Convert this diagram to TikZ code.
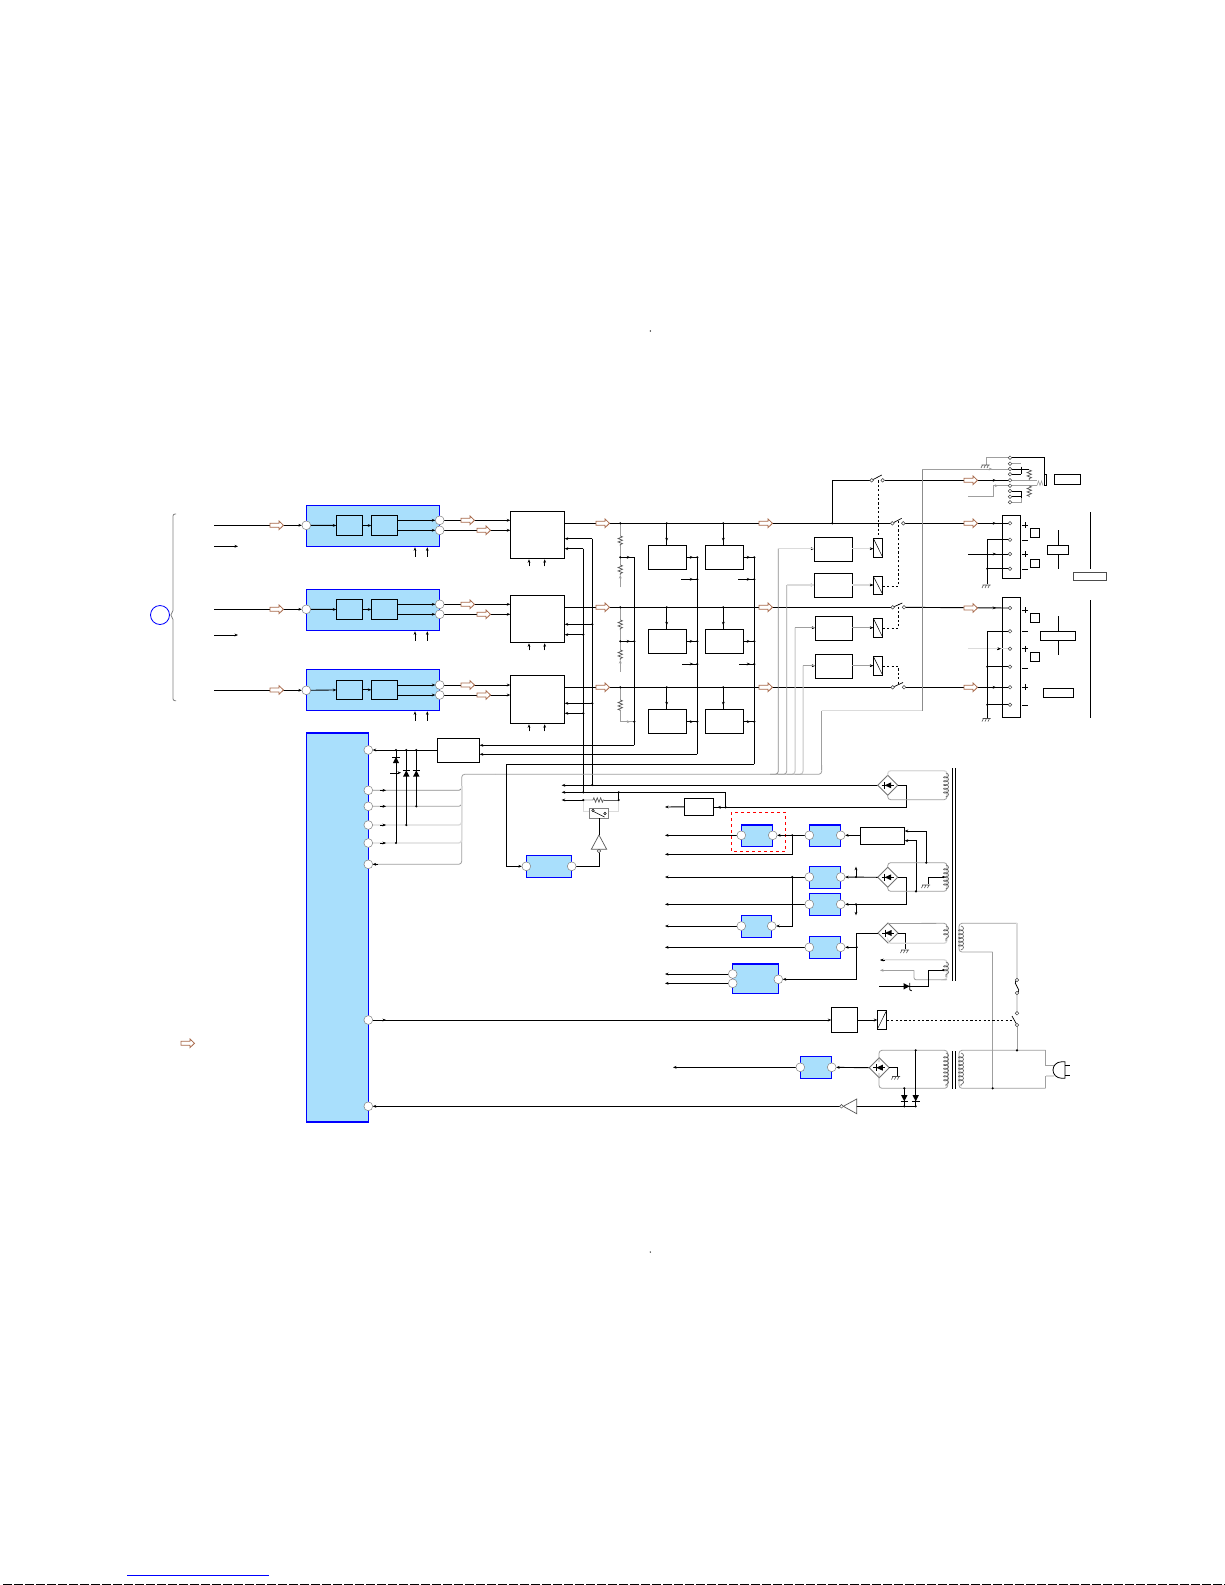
\documentclass[tikz,border=0pt]{standalone}
\usetikzlibrary{arrows.meta,shapes.geometric,decorations.markings,decorations.pathmorphing}
\pgfdeclarelayer{front}\pgfsetlayers{main,front}
\definecolor{icblue}{HTML}{A9DFFC}
\definecolor{harrow}{HTML}{A8694A}
\newcommand\bx[6]{\pgfmathsetmacro\cxx{(#3+#5)/2}\pgfmathsetmacro\cyy{(#4+#6)/2}\pgfmathsetmacro\ww{#5-#3}\pgfmathsetmacro\hh{#6-#4}\node[#1,minimum width=\ww pt,minimum height=\hh pt] (#2) at (\cxx,\cyy) {};}
\newcommand\gnd[2]{\begin{scope}[shift={(#1,#2)}]\draw[gray!60!black,line width=.6pt] (-4,0)--(4,0) (-3,0)--(-4.5,3) (0,0)--(-1.5,3) (3,0)--(1.5,3);\end{scope}}
\newcommand\rectif[3]{\node[rectnode] (#1) at (#2,#3) {};\begin{scope}[shift={(#2,#3)}]\fill (3.5,-3)--(3.5,3)--(-3,0)--cycle;\draw[wire] (-6,0)--(6,0) (-3,-3.5)--(-3,3.5);\end{scope}}
\newcommand\coilv[3]{\draw[gray!70!black,line width=.6pt,decorate,decoration={coil,aspect=.6,segment length=3.8pt,amplitude=2.5pt}] (#1,#2)--(#1,#3);}
\newcommand\dioup[2]{\begin{scope}[shift={(#1,#2)}]\fill (-3.2,3.2)--(3.2,3.2)--(0,-3)--cycle;\draw[wire] (-3.8,-3)--(3.8,-3);\end{scope}}
\newcommand\diodn[2]{\begin{scope}[shift={(#1,#2)}]\fill (-3.2,-3.2)--(3.2,-3.2)--(0,3)--cycle;\draw[wire] (-3.8,3)--(3.8,3);\end{scope}}
\newcommand\res[3]{\draw[gray!70!black,line width=.7pt,decorate,decoration={zigzag,segment length=3.4pt,amplitude=2.2pt}] (#1,#2)--(#1,#3);}
\tikzset{
 wire/.style={black,line width=.9pt},
 gw/.style={gray!75,line width=.8pt},
 dkw/.style={gray!110!black,line width=.8pt},
 lw/.style={gray!28,line width=1.3pt},
 tipat/.style={postaction={decorate,decoration={markings,mark=at position #1 with {\arrow{Stealth[length=3.5pt,width=2.8pt]}}}}},
 tip/.style={-{Stealth[length=3.5pt,width=2.8pt]}},
 ibox/.style={draw=black,line width=.9pt,fill=white,inner sep=0pt,outer sep=0pt},
 iboxb/.style={draw=black,line width=.9pt,fill=icblue,inner sep=0pt,outer sep=0pt},
 bluebox/.style={draw=blue,line width=1.15pt,fill=icblue,inner sep=0pt,outer sep=0pt},
 pinnode/.style={circle,draw=gray,line width=.5pt,fill=white,minimum size=8.8pt,inner sep=0pt,outer sep=0pt},
 ptnode/.style={circle,draw=black!75,line width=.5pt,fill=white,minimum size=3.6pt,inner sep=0pt,outer sep=0pt},
 dotnode/.style={circle,fill=black,minimum size=2.4pt,inner sep=0pt,outer sep=0pt},
 rectnode/.style={diamond,draw=gray!90!black,line width=.9pt,fill=white,minimum size=20pt,inner sep=0pt,outer sep=0pt},
 dashw/.style={black,line width=.9pt,dash pattern=on 2.2pt off 2.2pt},
 harr/.style={draw=harrow,line width=.8pt,fill=white},
}
\begin{document}
\begin{tikzpicture}[x=1pt,y=-1pt]
\useasboundingbox (0,0) rectangle (1225,1585);
\fill[white] (0,0) rectangle (1225,1585);
% page marks
\node[dotnode,minimum size=1.4pt] (marka) at (650.3,331) {};
\node[dotnode,minimum size=1.4pt] (markb) at (650.3,1252) {};
\draw[blue,line width=.9pt] (127,1575.3)--(268.7,1575.3);
\draw[black,line width=1pt,dash pattern=on 9pt off 2pt] (3,1584.4)--(1225,1584.4);
% brace and circle
\draw[gray,line width=.8pt,rounded corners=2] (176,514)--(173,514)--(173,612.5)--(170,615)--(173,617.5)--(173,700.7)--(176,700.7);
\node[circle,draw=blue,line width=.8pt,minimum size=19pt,inner sep=0pt] (src) at (160,615) {};
% three input rows
\foreach \r/\t/\b/\yi/\yo/\yp/\ya/\yc/\ybb/\icb/\icc/\ym/\fa/\fb/\sy in {
 a/505.3/546.3/525.3/520.3/530.3/515.3/535.7/558.3/511.3/558.3/523.3/538.7/548.7/546.3,
 b/589.3/630.3/609.3/604.3/614.3/599.3/619.7/642.3/595.3/642.3/607.3/624.3/634.7/635,
 c/669.3/710.3/690.3/685/695/680.3/699.3/723.3/675.3/723.3/687.3/703.3/713.3/0}{
 \bx{bluebox}{blue\r}{306.3}{\t}{439.7}{\b}
 \bx{iboxb}{fa\r}{336.3}{\ya}{362.3}{\yc}
 \bx{iboxb}{fb\r}{371.3}{\ya}{397.3}{\yc}
 \bx{ibox}{ic\r}{510.3}{\icb}{564.7}{\icc}
 \begin{pgfonlayer}{front}
 \node[pinnode] (in\r) at (306.3,\yi) {};
 \node[pinnode] (oa\r) at (439.7,\yo) {};
 \node[pinnode] (ob\r) at (439.7,\yp) {};
 \end{pgfonlayer}
 \coordinate (st\r) at (214,\yi);
 \coordinate (ina\r) at (510.3,\yo);
 \coordinate (inb\r) at (510.3,\yp);
 \coordinate (ma\r) at (564.7,\ym);
 \draw[wire,tip] (st\r)--(in\r);
 \draw[wire,tip] (in\r)--(fa\r);
 \draw[wire,tip] (fa\r)--(fb\r);
 \draw[wire,tip] (fb\r.east|-oa\r)--(oa\r);
 \draw[wire,tip] (fb\r.east|-ob\r)--(ob\r);
 \draw[wire,tip] (oa\r)--(ina\r);
 \draw[wire,tip] (ob\r)--(inb\r);
 \draw[wire,tip] (415,\b+10.4)--(415,\b+1);
 \draw[wire,tip] (427.3,\b+10.4)--(427.3,\b+1);
 \draw[wire,tip] (529,\icc+8)--(529,\icc+1);
 \draw[wire,tip] (544.7,\icc+8)--(544.7,\icc+1);
 \draw[wire,tip] (592.3,\fa)--(ic\r.east|-0,\fa);
 \draw[wire,tip] (583.3,\fb)--(ic\r.east|-0,\fb);
}
\draw[wire,tip] (214,546.3)--(238,546.3);
\draw[wire,tip] (214,635)--(238,635);
\draw[wire] (592.3,538.7)--(592.3,785);
\draw[wire] (583.3,548.7)--(583.3,792.3);
% amplifier boxes
\foreach \n/\t/\b in {a/545.3/569.3,b/629.3/653.3,c/709.3/733.3}{
 \bx{ibox}{amp1\n}{648.3}{\t}{686.7}{\b}
 \bx{ibox}{amp2\n}{705.3}{\t}{743.3}{\b}
}
\foreach \n/\y in {a/523.3,b/607.3,c/687.3}{
 \draw[wire,tipat=-4pt] (666.7,\y)--(amp1\n.north-|666.7,0);
 \draw[wire,tipat=-4pt] (723.3,\y)--(amp2\n.north-|723.3,0);
}
\foreach \n/\y in {a/557.3,b/641.3,c/721.7}{
 \draw[wire,tipat=-4pt] (amp1\n.east|-0,\y)--(697.3,\y);
 \draw[wire,tipat=-4pt] (amp2\n.east|-0,\y)--(754.3,\y);
}
\draw[wire,tipat=-4pt] (681,579.3)--(697.3,579.3);
\draw[wire,tipat=-4pt] (738,579.3)--(754.3,579.3);
\draw[wire,tipat=-4pt] (682,664)--(697.3,664);
\draw[wire,tipat=-4pt] (739,664)--(754.3,664);
\draw[wire] (697.3,557.3)--(697.3,754.3);
\draw[wire] (754.3,557.3)--(754.3,764.3);
\draw[wire] (634.3,557.3)--(634.3,745.3);
% dividers
\draw[gw] (620.3,523.3)--(620.3,536);\res{620.3}{536}{546}\draw[gw] (620.3,546)--(620.3,557.3);
\draw[gw] (620.3,557.3)--(620.3,565);\res{620.3}{565}{575}\draw[gw,tip] (620.3,587.3)--(620.3,575);
\draw[wire,tipat=-4pt] (620.3,557.3)--(634.3,557.3);
\draw[gw] (620.3,607.3)--(620.3,620);\res{620.3}{620}{630}\draw[gw] (620.3,630)--(620.3,641.3);
\draw[gw] (620.3,641.3)--(620.3,650);\res{620.3}{650}{660}\draw[gw,tip] (620.3,671.7)--(620.3,660);
\draw[wire,tipat=-4pt] (620.3,641.3)--(634.3,641.3);
\draw[gw] (620.3,687.3)--(620.3,700);\res{620.3}{700}{711}\draw[gw] (620.3,711)--(620.3,721.7);
\draw[gw,tipat=-4pt] (620.3,721.7)--(634.3,721.7);
% right switches
\begin{pgfonlayer}{front}
\foreach \n/\xa/\xb/\y in {z/871.7/882.7/480.3,a/892.3/903.3/523.3,b/892.7/904/607.3,c/892.7/904/687.3}{
 \node[ptnode] (sw\n L) at (\xa,\y) {};
 \node[ptnode] (sw\n R) at (\xb,\y) {};
}
\foreach \n/\y in {1/457.7,2/463.7,3/469,4/474.3,5/480.3,6/485.7,7/491,8/496.7,9/502.3}{\node[ptnode] (j\n) at (1010,\y) {};}
\foreach \n/\y in {a/523.3,b/539.7,c/554,d/568.7}{\node[ptnode] (ka\n) at (1010,\y) {};}
\foreach \n/\y in {a/608,b/631.3,c/648.7,d/666.7,e/687.3,f/704.7}{\node[ptnode] (kb\n) at (1010,\y) {};}
\end{pgfonlayer}
\draw[black,line width=.7pt] (swzL)--(881.7,475) (swaL)--(901.7,518.3) (swbL)--(902.3,603) (swcL)--(903,682.5);
\bx{ibox}{conna}{1002.3}{515.3}{1020.3}{578.3}
\bx{ibox}{connb}{1002.3}{597}{1020.3}{717.3}
\draw[wire] (maa)--(swaL);
\draw[wire] (mab)--(swbL);
\draw[wire] (mac)--(swcL);
\draw[wire,tipat=-12pt] (swaR)--(kaa);
\draw[wire,tipat=-12pt] (swbR)--(kba);
\draw[wire,tipat=-12pt] (swcR)--(kbe);
\draw[wire] (832.3,523.3)--(832.3,480.3)--(swzL);
\draw[wire,tipat=-12pt] (swzR)--(j5);
% driver boxes and relays
\bx{ibox}{dra}{814.3}{537.3}{852.3}{561.3}
\bx{ibox}{drb}{814.3}{573.3}{852.3}{597.3}
\bx{ibox}{drc}{815.3}{616.3}{852.3}{640.3}
\bx{ibox}{drd}{815.3}{654.3}{852.3}{678.3}
\bx{ibox}{rla}{873.3}{538.3}{882.7}{557.3}
\bx{ibox}{rlb}{873.3}{576.3}{882.7}{594.3}
\bx{ibox}{rlc}{873.3}{618.3}{882.7}{637.3}
\bx{ibox}{rld}{873.3}{656.3}{882.7}{675.3}
\foreach \n in {a,b,c,d}{\draw[black,line width=.5pt] (rl\n.north west)--(rl\n.south east);}
\draw[lw] (dra.east|-0,548.7)--(rla.west|-0,548.7);
\draw[lw] (drb.east|-0,585)--(rlb.west|-0,585);
\draw[gw] (drc.east|-0,627.7)--(rlc.west|-0,627.7);
\draw[gw] (drd.east|-0,665.7)--(rld.west|-0,665.7);
\foreach \y/\x in {548.7/873.3,585/873.3,627.7/873.3,665.7/873.3}{\draw[black,tip,line width=.4pt] (\x-3.6,\y)--(\x,\y);}
\foreach \y/\x in {548.7/814.3,585/814.3,627.7/815.3,665.7/815.3}{\draw[black,tip,line width=.4pt] (\x-3.6,\y)--(\x,\y);}
\draw[dashw] (878.3,480.3)--(878.3,538.3);
\draw[dashw] (882.7,586.3)--(898.3,586.3)--(898.3,520);
\draw[dashw] (882.7,628.3)--(898.3,628.3)--(898.3,604);
\draw[dashw] (882.7,666.3)--(898.3,666.3)--(898.3,684);
% gray buses
\draw[dkw,rounded corners=3] (778.3,548.7)--(778.3,774.3)--(770,774.3);
\draw[gw,rounded corners=3] (786.7,585)--(786.7,774.3)--(778,774.3);
\draw[gray!45,line width=1pt,rounded corners=3] (795,627.7)--(795,774.3)--(787,774.3);
\draw[gray!45,line width=1pt,rounded corners=3] (803,665.7)--(803,774.3)--(795,774.3);
\draw[lw] (778.3,548.7)--(814.3,548.7);
\draw[lw] (786.7,585)--(814.3,585);
\draw[gw] (795,627.7)--(815.3,627.7);
\draw[gw] (803,665.7)--(815.3,665.7);
\draw[lw] (821.7,710.7)--(922.3,710.7);
\draw[gw] (821.7,710.7)--(821.7,770);
\draw[gw,rounded corners=3] (821.7,765)--(821.7,774.3)--(495,774.3);
\draw[gw,rounded corners=3] (495,774.3)--(461.7,774.3)--(461.7,864.3)--(372.7,864.3);
\draw[dkw] (922.3,710.7)--(922.3,469);
\draw[gw,tipat=-16pt] (922.3,469)--(j3);
% big IC and pins
\bx{bluebox}{bigic}{306.7}{732.7}{368.3}{1122}
\draw[blue,line width=1.6pt] (306.7,732.7)--(368.3,732.7);
\begin{pgfonlayer}{front}
\foreach \n/\y in {1/750,2/790.3,3/806.3,4/825,5/843,6/864.3,7/1020,8/1106.3}{\node[pinnode] (bp\n) at (368.3,\y) {};}
\end{pgfonlayer}
\bx{ibox}{reg}{437.3}{738.3}{479.7}{762.3}
\draw[wire,tip] (reg.west|-bp1)--(bp1);
\draw[wire,tip] (634.3,745.3)--(reg.east|-0,745.3);
\draw[wire,tip] (697.3,754.3)--(reg.east|-0,754.3);
\foreach \n/\sty in {2/dkw,3/gw,4/lw,5/lw}{\draw[\sty,rounded corners=3] (bp\n)--(bp\n-|461.7,0)--(461.7,786);}
\foreach \y in {790.3,806.3,825,843}{\draw[black,tip,line width=.4pt] (380,\y)--(386,\y);}
\draw[black,tip,line width=.4pt] (378,864.3)--(372.7,864.3);
% diodes
\draw[wire] (396,750)--(396,843);
\draw[wire] (406.3,750)--(406.3,825);
\draw[wire] (416.3,750)--(416.3,806.3);
\dioup{396}{760}\dioup{406.3}{773.3}\dioup{416.3}{773.3}
\draw[black,tip,line width=.4pt] (390,772.7)--(401,772.7);
% control lines
\draw[wire] (592.3,785)--(565,785);
\draw[wire,tip] (877.7,785.3)--(561.7,785.3);
\draw[wire,tip] (725.7,792.3)--(561.7,792.3);
\draw[wire] (725.7,792.3)--(725.7,807.3);
\draw[wire,tip] (583.3,800)--(561.7,800);
\draw[gray!70!black,line width=.7pt] (604,800)--(618.7,800);
% the filler between relay and resistor
\draw[lw] (583.3,800)--(593,800);
\draw[gray!70!black,line width=.7pt,decorate,decoration={zigzag,segment length=3.4pt,amplitude=2.2pt}] (593,800)--(604,800);
\draw[lw] (583.3,800)--(583.3,811.7)--(590,811.7);
\draw[lw] (608.3,811.7)--(618.7,811.7)--(618.7,800);
\draw[wire] (618.7,792.3)--(618.7,800);
\draw[wire] (583.3,792.3)--(618.7,792.3);
\bx{draw=gray,line width=.9pt,fill=white,inner sep=0pt,outer sep=0pt}{kbox}{589.7}{808}{608.3}{818.3}
\draw[black,line width=.5pt,fill=white] (593,810.5) circle (1.2) (605,813.5) circle (1.2);
\draw[black,line width=.6pt] (593.5,811.5)--(604.5,817);
% relay buffer
\draw[gray!70!black,line width=.7pt,fill=white] (599,835)--(606.7,849.3)--(591.3,849.3)--cycle;
\node[ptnode] (bufa) at (599,851) {};
\draw[wire] (599,818.3)--(599,835);
\bx{bluebox}{bl0}{526.3}{855.3}{571.7}{877.3}
\begin{pgfonlayer}{front}
\node[pinnode] (bl0a) at (526.3,866.3) {};
\node[pinnode] (bl0b) at (571.7,866.3) {};
\end{pgfonlayer}
\draw[wire] (bufa)--(599,866.3)--(bl0b);
\draw[wire,tip] (754.3,764.3)--(506.3,764.3)--(506.3,866.3)--(bl0a);
% power section
\bx{ibox}{pbox}{684.3}{798.3}{713.3}{815.3}
\draw[wire,tip] (pbox.west)--(665,807);
\draw[wire,tipat=-4pt] (906.7,807.3)--(pbox.east|-0,807.3);
\rectif{ra}{887.7}{785.3}\rectif{rb}{887.7}{877.3}\rectif{rc}{888}{933}\rectif{rd}{879.3}{1067.7}
\draw[wire] (ra.east)--(906.7,785.3)--(906.7,807.3);
\draw[draw=red,line width=.8pt,dashed] (731.3,812.3) rectangle (785.7,851.3);
\foreach \n/\xa/\xb/\t/\b/\y in {1/741.3/772.7/824.7/846.7/835.3,2/809.3/840.7/824.7/846.7/835.3,3/809.3/840.7/866.3/888.3/877,4/809.3/840.7/893.3/915.7/904.3,5/741.3/771.7/915.3/937.3/926,6/809.3/840.7/936.3/958.3/947.3,8/800.3/831.7/1056.3/1078.3/1067.3}{
 \bx{bluebox}{bl\n}{\xa}{\t}{\xb}{\b}
 \draw[blue,line width=1.6pt] (\xa,\t)--(\xb,\t);
 \begin{pgfonlayer}{front}
 \node[pinnode] (bl\n a) at (\xa,\y) {};
 \node[pinnode] (bl\n b) at (\xb,\y) {};
 \end{pgfonlayer}
}
\bx{bluebox}{bl7}{732.3}{963.7}{778.7}{993.3}
\draw[blue,line width=1.6pt] (732.3,963.7)--(778.7,963.7);
\begin{pgfonlayer}{front}
\node[pinnode] (bl7a) at (732.7,974) {};
\node[pinnode] (bl7c) at (732.7,983.3) {};
\node[pinnode] (bl7b) at (778.3,979.3) {};
\end{pgfonlayer}
\bx{ibox}{vreg}{860.3}{827.3}{904.7}{844.7}
\draw[wire,tip] (bl1a)--(665,835.3);
\draw[wire,tip] (bl2a)--(bl1b);
\draw[wire,tip] (vreg.west|-bl2b)--(bl2b);
\draw[wire,tip] (792.3,835.3)--(792.3,854.3)--(665,854.3);
\draw[wire,tip] (926.3,862.7)--(926.3,831)--(vreg.east|-0,831);
\draw[wire,tip] (916,891.3)--(916,840.7)--(vreg.east|-0,840.7);
\draw[wire,tip] (bl3a)--(665,877);
\draw[wire,tip] (rb.west)--(bl3b);
\draw[wire,tip] (856,877)--(856,866.7);
\draw[wire,tip] (bl4a)--(665,904.3);
\draw[wire,tip] (906.7,877.3)--(906.7,904.3)--(bl4b);
\draw[wire] (rb.east)--(906.7,877.3);
\draw[wire,tip] (856,904.3)--(856,915.3);
\draw[wire,tip] (bl5a)--(665,926);
\draw[wire,tip] (792.3,877)--(792.3,926)--(bl5b);
\draw[wire,tip] (bl6a)--(665,947.3);
\draw[wire,tip] (856.7,947.3)--(bl6b);
\draw[wire,tip] (rc.west)--(856.7,933)--(856.7,979.3)--(bl7b);
\draw[wire,tip] (bl7a)--(665,974);
\draw[wire,tip] (bl7c)--(665,983.3);
\draw[wire] (rc.east)--(905,933)--(905,949);
\gnd{905}{950}
\draw[wire] (943.3,877)--(928.3,877)--(928.3,884.3);
\gnd{926}{885}
\draw[wire,tip] (bl8a)--(673,1067.3);
\draw[wire,tip] (rd.west)--(bl8b);
\draw[wire] (rd.east)--(897.7,1067.7)--(897.7,1076);
\gnd{896}{1076.5}
% windings
\draw[gray!28,line width=1.3pt,rounded corners=3] (887.7,775.3)|-(947,770.7)--(947,780);
\draw[gw,rounded corners=3] (947,790)--(947,799.7)-|(887.7,795.3);
\coilv{946}{773}{797}
\draw[gw,rounded corners=3] (887.7,867)|-(947,862.7)--(947,891.3)-|(887.7,887);
\coilv{946}{865}{889}
\draw[gw,rounded corners=3] (888,923.5)--(947,923.3)--(947,930);
\draw[lw,rounded corners=3] (947,936)--(947,943.3)-|(888,941);
\coilv{946}{926}{941}
\draw[lw,rounded corners=3] (946,979.7)--(947,979.7)--(947,959.7)--(882,959.7);
\draw[black,tip,line width=.4pt] (885,960)--(880,960);
\draw[gw,rounded corners=2] (947,979.7)--(914,979.7)--(914,970.3);
\draw[gw,tip] (914,970.3)--(880,970.3);
\coilv{946}{962}{977}
\draw[wire] (879.3,986.3)--(928.3,986.3)--(928.3,970)--(943.3,970);
\begin{scope}[shift={(906.7,986.3)}]\fill (-3.2,-3.2)--(-3.2,3.2)--(3,0)--cycle;\draw[wire] (3,-3.5)--(3,3.5)--(5,4.5);\end{scope}
% core lines
\draw[black,line width=.9pt] (952.3,768.3)--(952.3,980.7) (955.7,768.3)--(955.7,980.7);
\draw[black,line width=.7pt] (952.3,1051)--(952.3,1089) (955,1051)--(955,1089);
% mains primary
\draw[gw,rounded corners=3] (1017,923.3)--(959,923.3)--(959,952)--(992.7,952);
\coilv{961}{926}{950}
\draw[gw] (992.7,952)--(992.7,1088.3);
\draw[lw] (1017,923.3)--(1017,980);
\draw[black,line width=.7pt] (1017,980) .. controls (1011,984) and (1023,989) .. (1017,993);
\node[ptnode] (fa) at (1017,980) {};
\node[ptnode] (fb) at (1017,993) {};
\draw[lw] (fb)--(1017,1012);
\node[ptnode] (swmu) at (1017,1013.3) {};
\node[ptnode] (swml) at (1017,1025) {};
\draw[black,line width=.7pt] (swml)--(1012,1016);
\draw[gw] (swml)--(1017,1050.3);
% bottom transformer
\draw[gw,rounded corners=3] (879,1062)--(879,1050.3)--(947.7,1050.3)--(947.7,1088.3)--(879,1088.3)--(879,1073);
\coilv{946}{1053}{1086}
\draw[gw,rounded corners=3] (1045.7,1050.3)--(959,1050.3)--(959,1088.3)--(1045.7,1088.3);
\coilv{961}{1053}{1086}
\draw[gw] (1045.7,1050.3)--(1045.7,1065.3)--(1054,1065.3);
\draw[lw] (1054,1076)--(1045.7,1076);
\draw[gw] (1045.7,1076)--(1045.7,1088.3);
\draw[black,line width=.8pt] (1065,1061.7)--(1062,1061.7) .. controls (1050,1062) and (1050,1078) .. (1062,1078.3)--(1065,1078.3)--cycle;
\draw[black,line width=.8pt] (1065,1065.3)--(1070,1065.3) (1065,1075.3)--(1070,1075.3);
% standby path
\bx{ibox}{stb}{831.3}{1007.3}{857.7}{1032.3}
\bx{ibox}{rle}{877.3}{1010.3}{886.7}{1029.3}
\draw[black,line width=.5pt] (rle.north east)--(rle.south west);
\draw[wire,tip] (bp7)--(stb.west|-bp7);
\draw[black,tip,line width=.4pt] (380,1020)--(386,1020);
\draw[wire,tip] (stb.east|-0,1020)--(rle.west|-0,1020);
\draw[dashw] (rle.east|-0,1020)--(1011.7,1020);
% bottom buffer and diodes
\draw[wire,tip] (856.7,1106.3)--(bp8);
\draw[wire] (856.7,1106.3)--(915.7,1106.3)--(915.7,1050.3);
\draw[wire] (904.3,1088.3)--(904.3,1106.3);
\diodn{904.3}{1098.3}\diodn{915.7}{1098.3}
\draw[gray!70!black,line width=.7pt,fill=white] (856.7,1099)--(856.7,1113.7)--(843.3,1106.3)--cycle;
\node[ptnode] (bufb) at (841.5,1106.3) {};
% jack
\draw[gw] (986.3,465)--(986.3,457.7)--(j1);
\gnd{985.5}{465}
\draw[wire] (j1)--(1044.3,457.7)--(1044.3,474.3);
\bx{ibox}{jm}{1044.3}{474.3}{1046.7}{485.3}
\bx{ibox}{jbox}{1054.3}{474.3}{1080.3}{484.7}
\draw[wire] (j3)--(1029,469);
\draw[wire] (j4)--(1021,474.3);
\draw[wire] (1021,466.5)--(1021,474.3);
\draw[gw] (j2)--(1021,463.7);
\draw[gw,line width=.8pt] (j5)--(1037,480.3);
\draw[gw,line width=.8pt] (j6)--(1037,485.7);
\draw[wire] (j7)--(1021,491);
\draw[wire] (j8)--(1021,496.7);
\draw[wire] (1021,491)--(1021,498);
\draw[gw] (j9)--(1021,502.3)--(1021,498);
\res{1029.3}{470}{480}\res{1029.3}{486}{497}
\draw[gw,line width=.6pt] (1037,485.5)--(1038.5,481)--(1040,485.5)--(1041.5,481)--(1043,485.5);
\draw[gw] (968,496.3)--(993.3,496.3)--(993.3,485.7);
\draw[gw,tipat=-10pt] (993.3,485.7)--(j6);
% connector A
\draw[wire,tipat=-12pt] (968,554)--(kac);
\draw[wire] (kab)--(987.3,539.7)--(987.3,584.3);
\draw[wire] (987.3,568.7)--(kad);
\gnd{986.5}{585}
% connector B
\draw[lw] (968,648.7)--(kbc);
\draw[black,tip,line width=.4pt] (997,648.7)--(1001,648.7);
\draw[wire] (kbb)--(987.3,631.3)--(987.3,718.3);
\draw[wire] (987.3,666.7)--(kbd);
\draw[wire] (987.3,704.7)--(kbf);
\gnd{986.5}{718.5}
% signs
\foreach \y in {525.3,554.3,610,648.7,687.3}{\draw[black,line width=.9pt] (1022,\y)--(1028,\y) (1025,\y-3)--(1025,\y+3);}
\foreach \y in {540.3,569.3,631.3,668,705.3}{\draw[black,line width=.9pt] (1022,\y)--(1028,\y);}
% speaker blocks
\bx{ibox}{sqa}{1030.3}{528.3}{1039.3}{537.3}
\bx{ibox}{sqb}{1030.3}{559.3}{1039.3}{567.7}
\bx{ibox}{sqc}{1030.3}{613.3}{1039.3}{622.3}
\bx{ibox}{sqd}{1030.3}{652.3}{1039.3}{661.3}
\draw[wire] (1058.3,530)--(1058.3,568.7);
\bx{ibox}{spa}{1047.3}{545.3}{1068.3}{554.3}
\draw[wire] (1058.3,616)--(1058.3,654.7);
\bx{ibox}{spb}{1040.3}{631.3}{1075.3}{640.3}
\bx{ibox}{spc}{1043.3}{688.3}{1073.3}{697.3}
\draw[wire] (1090.3,512)--(1090.3,568.7);
\draw[wire] (1090.3,600)--(1090.3,717.7);
\bx{draw=black!70,line width=.9pt,fill=white,inner sep=0pt,outer sep=0pt}{spd}{1073.3}{572.3}{1106.3}{580.3}
% junction dots
\foreach \x/\y [count=\i] in {832.3/523.3,620.3/523.3,666.7/523.3,723.3/523.3,620.3/607.3,666.7/607.3,723.3/607.3,620.3/687.3,666.7/687.3,723.3/687.3,620.3/557.3,620.3/641.3,634.3/641.3,634.3/721.7,697.3/557.3,754.3/557.3,697.3/579.3,754.3/579.3,697.3/641.3,754.3/641.3,697.3/664,754.3/664,697.3/721.7,754.3/721.7,592.3/624.3,583.3/634.7,592.3/703.3,583.3/713.3,592.3/785,583.3/792.3,618.7/792.3,618.7/800,583.3/800,396/750,406.3/750,416.3/750,416.3/806.3,406.3/825,396/843,725.7/807.3,792.3/835.3,792.3/877,926.3/862.7,916/891.3,856/877,856/904.3,856.7/947.3,987.3/568.7,987.3/666.7,987.3/704.7,1017/1050.3,992.7/1088.3,915.7/1050.3,904.3/1088.3,915.7/1106.3,904.3/1106.3,943.3/877,943.3/970}{\node[dotnode] (dot\i) at (\x,\y) {};}
% hollow arrows
\begin{pgfonlayer}{front}
\foreach \x/\y in {270/525.3,270/609.3,270/690,461/520.3,477/530.3,461/604.3,477/614.3,461/685,477/695,596/523.3,596/607.3,596/687.3,759/523.3,759/607.3,759/687.3,964/480.3,964/523.3,964/608,964/687.3,181/1043.3}{
 \draw[harr,shift={(\x,\y)}] (0,-2)--(9,-2)--(9,-4.3)--(13.5,0)--(9,4.3)--(9,2)--(0,2)--cycle;
}
\end{pgfonlayer}
\end{tikzpicture}
\end{document}
